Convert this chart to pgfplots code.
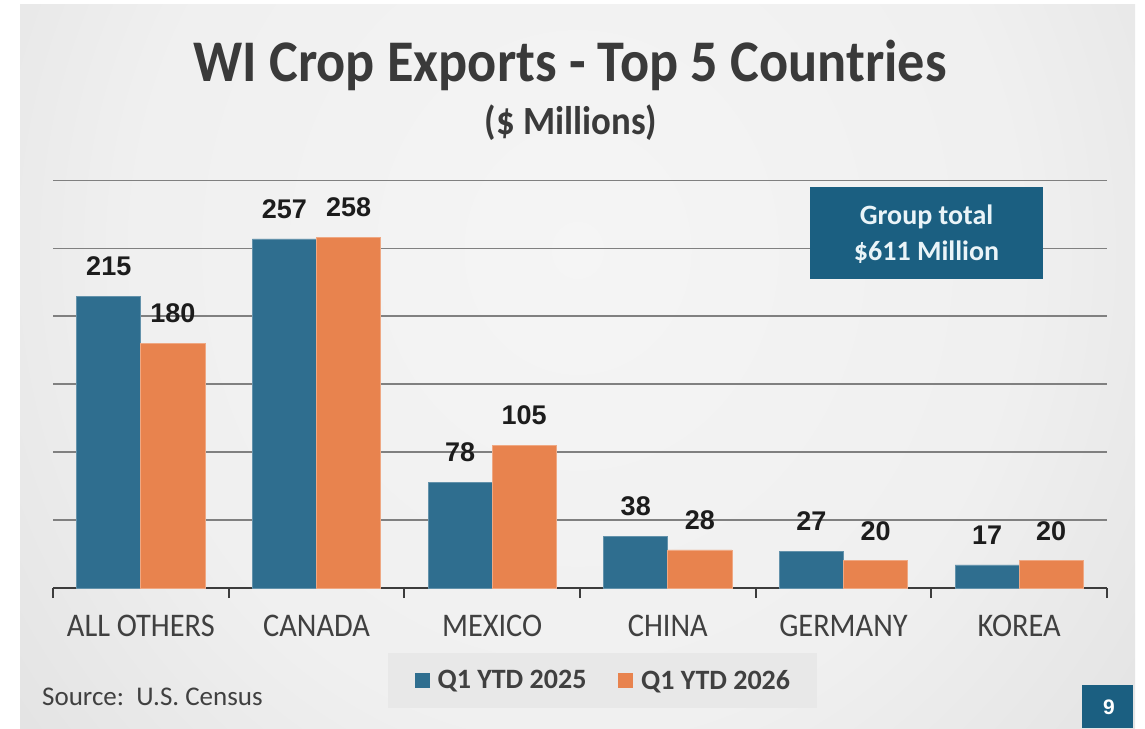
\documentclass[border=0pt]{standalone}
\usepackage{fontspec}
\setmainfont{Carlito}
\newfontfamily\condfont[FakeStretch=0.92]{Carlito}
\newfontfamily\arialfont{Liberation Sans}
\usepackage{pgfplots}
\pgfplotsset{compat=1.18}

\definecolor{barblue}{HTML}{2F6E8F}
\definecolor{barorange}{HTML}{E8834E}
\definecolor{boxteal}{HTML}{1B5F81}
\definecolor{boxtext}{HTML}{EAF4F8}
\definecolor{txtgray}{HTML}{404040}
\definecolor{titlegray}{HTML}{3A3A3A}
\definecolor{axisgray}{HTML}{3C3C3C}
\definecolor{gridgray}{HTML}{808080}
\definecolor{gridlight}{HTML}{C4C4C4}
\definecolor{labelblack}{HTML}{1C1C1C}
\definecolor{legendbg}{HTML}{E8E8E8}
\definecolor{bgA}{gray}{0.96}
\definecolor{bgB}{gray}{0.94}
\definecolor{bgC}{gray}{0.88}
\definecolor{bgD}{gray}{0.79}
\pgfdeclareradialshading{slidebg}{\pgfpoint{0bp}{0bp}}{color(0bp)=(bgA); color(20bp)=(bgB); color(35bp)=(bgC); color(50bp)=(bgD); color(70bp)=(bgD)}

\begin{document}
\begin{tikzpicture}[x=1pt,y=1pt]
% slide background
\fill[white] (0,0) rectangle (1145,728);
\begin{scope}
\clip (20,0) rectangle (1135,723);
\shade[shading=slidebg] (20,-133) rectangle (1135,1089);
\end{scope}

% titles
\node[anchor=base, inner sep=0pt, text=titlegray, font=\condfont\bfseries\fontsize{59}{60}\selectfont] at (570,646) {WI Crop Exports - Top 5 Countries};
\node[anchor=base, inner sep=0pt, text=titlegray, font=\condfont\bfseries\fontsize{40}{42}\selectfont] at (571,593) {(\$ Millions)};

\begin{axis}[
  at={(53pt,140pt)}, anchor=south west,
  scale only axis, width=1054pt, height=407.4pt,
  xmin=-0.5, xmax=5.5, ymin=0, ymax=300,
  ybar=0pt, bar width=0.365,
  axis x line*=bottom, axis y line*=left,
  y axis line style={draw=none},
  x axis line style={line width=2.5pt, color=axisgray},
  xtick={0,...,5},
  xticklabels={ALL OTHERS, CANADA, MEXICO, CHINA, GERMANY, KOREA},
  major x tick style={draw=none},
  minor xtick={-0.5,0.5,...,5.5},
  minor x tick style={line width=2pt, color=axisgray},
  minor tick length=10pt, major tick length=0pt,
  xtick align=outside,
  xticklabel style={font=\condfont\fontsize{33}{33}\selectfont, text=txtgray, anchor=north, inner sep=0pt},
  xticklabel shift=27pt,
  ytick={50,100,...,250}, yticklabels={},
  ytick style={draw=none},
  ymajorgrids, major grid style={line width=1.8pt, color=gridgray},
  extra y ticks={300}, extra y tick labels={},
  extra y tick style={grid style={line width=1.5pt, color=gridlight}},
  /pgf/number format/assume math mode=true,
  nodes near coords,
  every node near coord/.append style={font=\arialfont\bfseries\fontsize{27}{27}\selectfont, text=labelblack, anchor=south, inner sep=0pt, yshift=20pt},
  legend style={at={(0.5213,-0.227)}, anchor=center, fill=legendbg, draw=none,
    font=\bfseries\fontsize{28}{28}\selectfont, inner xsep=27pt, inner ysep=17pt,
    nodes={inner sep=0pt, text=txtgray},
    /tikz/every odd column/.append style={column sep=8pt},
    /tikz/every even column/.append style={column sep=32pt}},
  legend columns=2,
]
\addplot[fill=barblue, draw=barblue!75!white, line width=0.8pt,
  legend image code/.code={\fill[barblue] (0pt,-7pt) rectangle (14pt,7pt);}]
  coordinates {(0,215) (1,257) (2,78) (3,38) (4,27) (5,17)};
\addplot[fill=barorange, draw=barorange!70!white, line width=0.8pt,
  legend image code/.code={\fill[barorange] (0pt,-7pt) rectangle (14pt,7pt);}]
  coordinates {(0,180) (1,258) (2,105) (3,28) (4,20) (5,20)};
\legend{Q1 YTD 2025, Q1 YTD 2026}
\end{axis}

% group total box
\fill[boxteal] (810,449) rectangle (1043,541);
\node[anchor=base, inner sep=0pt, text=boxtext, font=\bfseries\fontsize{28}{28}\selectfont] at (926.5,503) {Group total};
\node[anchor=base, inner sep=0pt, text=boxtext, font=\bfseries\fontsize{28}{28}\selectfont] at (926.5,467) {\$611 Million};

% source and page number
\node[anchor=base west, inner sep=0pt, text=txtgray, font=\fontsize{27}{27}\selectfont] at (42,23) {Source:\ \ U.S. Census};
\fill[boxteal] (1082,0) rectangle (1133,43);
\node[inner sep=0pt, text=white, font=\arialfont\bfseries\fontsize{21}{21}\selectfont] at (1109,21) {9};
\end{tikzpicture}
\end{document}
